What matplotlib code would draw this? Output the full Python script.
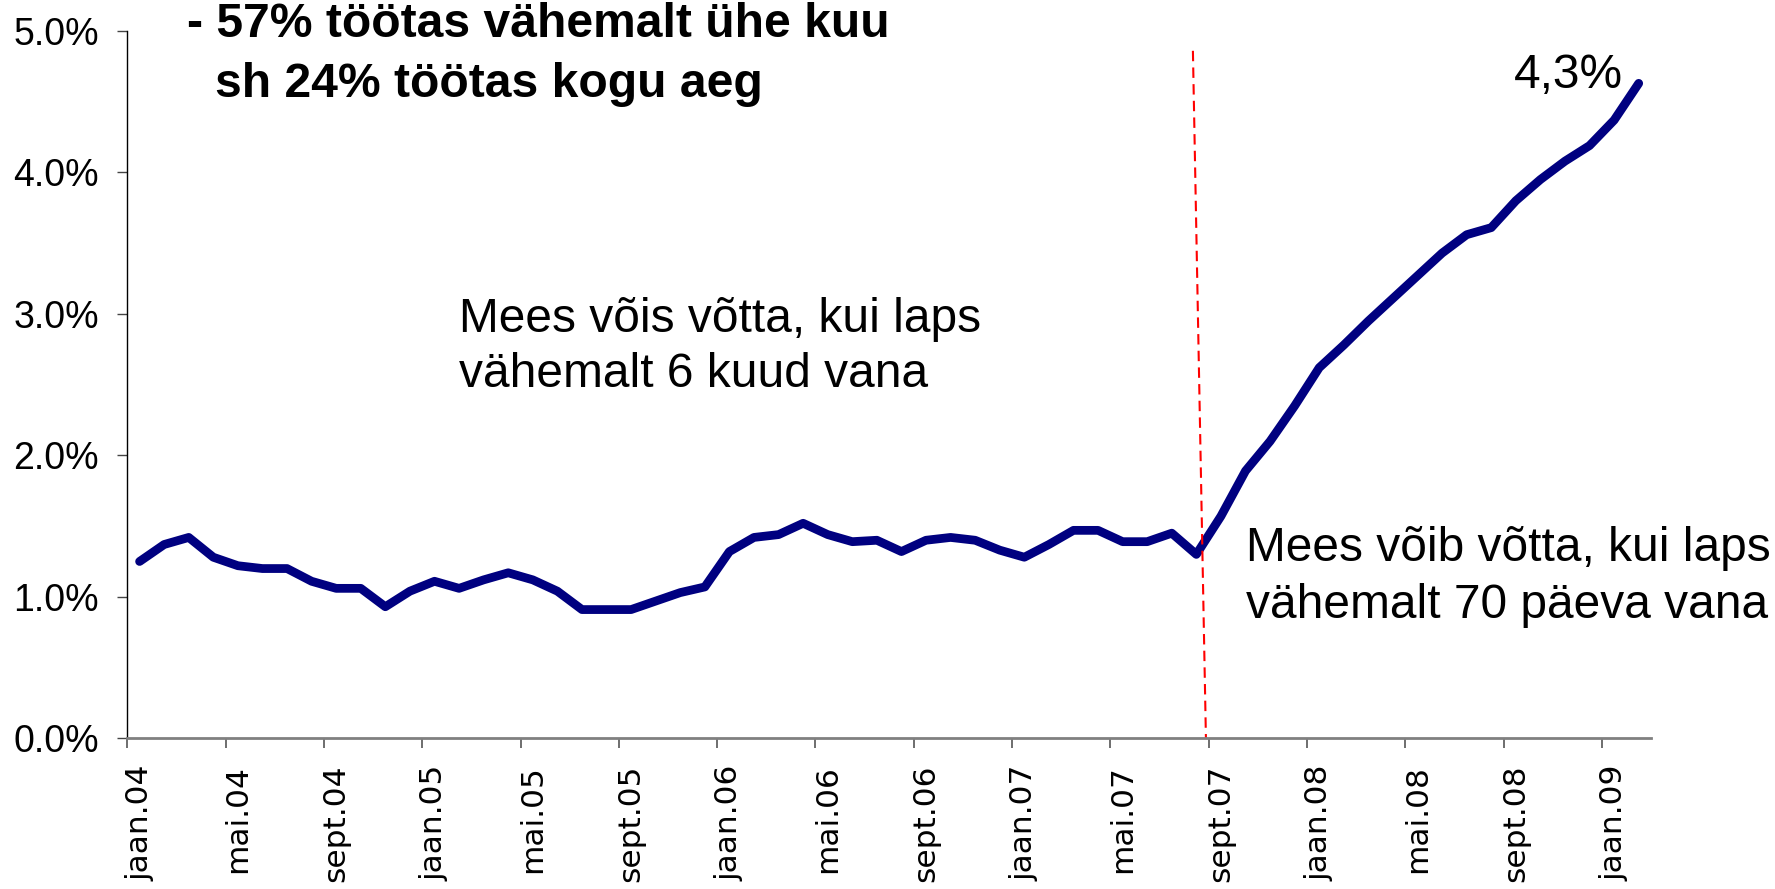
import numpy as np
import matplotlib
matplotlib.use("Agg")
from matplotlib import pyplot as plt

# isade osakaal (%), kuude kaupa jaan.04 ... veebr.09
values = [1.25, 1.37, 1.42, 1.28, 1.22, 1.20, 1.20, 1.11, 1.06, 1.06,
          0.93, 1.04, 1.11, 1.06, 1.12, 1.17, 1.12, 1.04, 0.91, 0.91,
          0.91, 0.97, 1.03, 1.07, 1.32, 1.42, 1.44, 1.52, 1.44, 1.39,
          1.40, 1.32, 1.40, 1.42, 1.40, 1.33, 1.28, 1.37, 1.47, 1.47,
          1.39, 1.39, 1.45, 1.30, 1.57, 1.89, 2.10, 2.35, 2.62, 2.78,
          2.95, 3.11, 3.27, 3.43, 3.56, 3.61, 3.80, 3.95, 4.08, 4.19,
          4.37, 4.63]
tick_labels = ["jaan.04", "mai.04", "sept.04", "jaan.05", "mai.05", "sept.05",
               "jaan.06", "mai.06", "sept.06", "jaan.07", "mai.07", "sept.07",
               "jaan.08", "mai.08", "sept.08", "jaan.09"]
yticks = [0, 1, 2, 3, 4, 5]

W, H = 1775, 889
fig = plt.figure(figsize=(W / 100, H / 100), dpi=100)
ax = fig.add_axes([127.3 / W, 1 - 738.3 / H, 1523.7 / W, 707.3 / H])

x = np.arange(len(values))
ax.plot(x, values, color="#000080", lw=6.3, solid_joinstyle="round", solid_capstyle="round")

# muutuse piir (sept.07)
ax.plot([42.86, 43.39], [4.86, 0], color="red", lw=1.5, linestyle=(0, (5, 3)))

ax.set_xlim(-0.5, len(values) - 0.5)
ax.set_ylim(0, 5)

ax.set_xticks(np.arange(0, len(values), 4))
ax.set_xticklabels(tick_labels, rotation=90, va="top", ha="center",
                   fontsize=22.5, family="DejaVu Sans")
ax.set_xticks(np.arange(-0.5, len(values) - 1, 4), minor=True)
ax.tick_params(axis="x", which="major", length=0, pad=19)
ax.tick_params(axis="x", which="minor", length=7.2, width=1.2, color="#555555")

ax.set_yticks(yticks)
ax.set_yticklabels(["%.1f%%" % v for v in yticks], fontsize=27, family="Liberation Sans")
ax.tick_params(axis="y", length=7.2, width=1, color="#444444", pad=13)

for s in ["top", "right"]:
    ax.spines[s].set_visible(False)
ax.spines["left"].set_color("black")
ax.spines["left"].set_linewidth(1)
ax.spines["bottom"].set_color("#808080")
ax.spines["bottom"].set_linewidth(2)

def px(xp, yp):
    return xp / W, 1 - yp / H

fig.text(*px(187, 37), "- 57% töötas vähemalt ühe kuu", fontsize=34.6,
         fontweight="bold", family="Liberation Sans")
fig.text(*px(215, 97), "sh 24% töötas kogu aeg", fontsize=34.6,
         fontweight="bold", family="Liberation Sans")
fig.text(*px(459, 332), "Mees võis võtta, kui laps", fontsize=34.5, family="Liberation Sans")
fig.text(*px(459, 387), "vähemalt 6 kuud vana", fontsize=34.5, family="Liberation Sans")
fig.text(*px(1246, 561), "Mees võib võtta, kui laps", fontsize=34.5, family="Liberation Sans")
fig.text(*px(1246, 618), "vähemalt 70 päeva vana", fontsize=34.5, family="Liberation Sans")
fig.text(*px(1623, 88), "4,3%", fontsize=34.5, ha="right", family="Liberation Sans")

fig.savefig("out.png", dpi=100)
